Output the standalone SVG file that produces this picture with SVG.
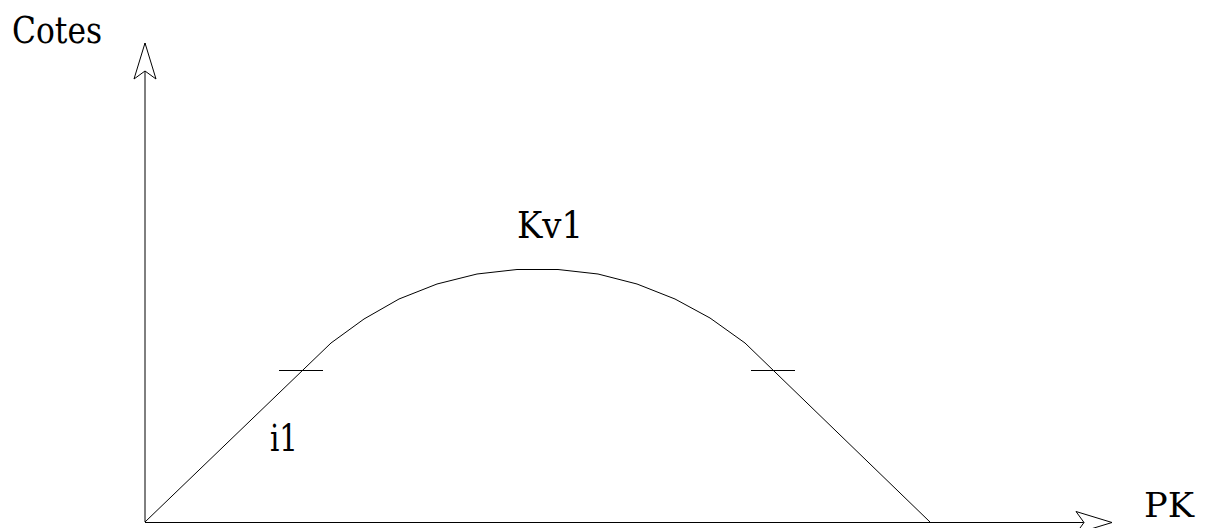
<svg xmlns="http://www.w3.org/2000/svg" width="1206" height="528" viewBox="0 0 1206 528">
<style>
.ln{fill:none;stroke:#000;stroke-width:1}
text{font-family:'DejaVu Serif',serif;fill:#000}
</style>
<defs>
<marker id="arr" markerUnits="userSpaceOnUse" viewBox="-40 -15 44 30" markerWidth="44" markerHeight="30" refX="0" refY="0" orient="auto" overflow="visible">
<path d="M0,0 L-36,-11 L-28,0 L-36,11 Z" fill="#fff" stroke="#000" stroke-width="1"/>
</marker>
</defs>
<rect width="1206" height="528" fill="#fff"/>
<g id="axes">
<line class="ln" x1="145" y1="522" x2="145" y2="43" marker-end="url(#arr)"/>
<line class="ln" x1="145" y1="522.5" x2="1112" y2="522.5" marker-end="url(#arr)"/>
</g>
<g id="profile">
<polyline class="ln" points="145,522 331,343 364,319 399,299 437,284 477,274 517,269.5 558,269.5 598,274 637,284 675,299 710,318 745,343 930,522"/>
<line class="ln" x1="279" y1="370.5" x2="323" y2="370.5"/>
<line class="ln" x1="751" y1="370.5" x2="795" y2="370.5"/>
</g>
<g id="labels">
<text x="12" y="43" font-size="38" textLength="90" lengthAdjust="spacingAndGlyphs">Cotes</text>
<text x="517" y="238" font-size="38" textLength="66" lengthAdjust="spacingAndGlyphs">Kv1</text>
<text x="270" y="451" font-size="38" textLength="28" lengthAdjust="spacingAndGlyphs">i1</text>
<text x="1144" y="517" font-size="33" textLength="50" lengthAdjust="spacingAndGlyphs">PK</text>
</g>
</svg>
